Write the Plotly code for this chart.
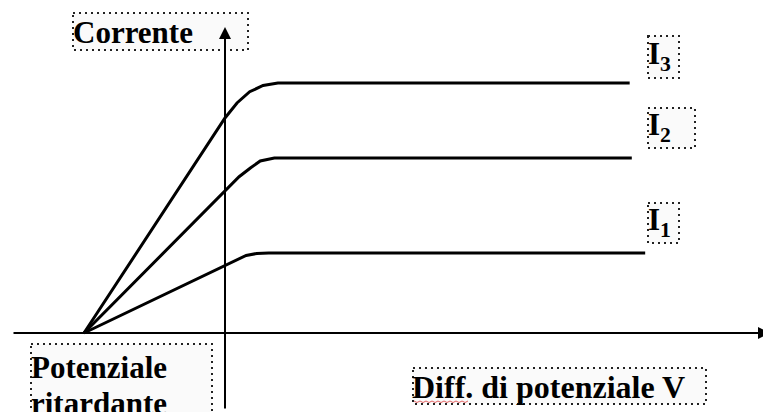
import plotly.graph_objects as go

# ---------------- data (voltage V, current in arbitrary units) ----------------
stop_potential = -2.0
V_I1 = [-2.0, 0.0, 0.15, 0.30, 0.45, 0.62, 5.96]
I_I1 = [0.0, 2.72, 2.92, 3.10, 3.18, 3.20, 3.20]
V_I2 = [-2.0, 0.0, 0.20, 0.36, 0.50, 0.70, 5.77]
I_I2 = [0.0, 5.72, 6.25, 6.60, 6.88, 7.00, 7.00]
V_I3 = [-2.0, 0.0, 0.17, 0.35, 0.54, 0.75, 5.74]
I_I3 = [0.0, 8.60, 9.20, 9.65, 9.90, 10.00, 10.00]
series = [("I1", V_I1, I_I1), ("I2", V_I2, I_I2), ("I3", V_I3, I_I3)]
curve_labels = ["I<sub>1</sub>", "I<sub>2</sub>", "I<sub>3</sub>"]
y_label = "Corrente"
x_label = "Diff. di potenziale V"
stop_label = ["Potenziale", "ritardante"]

# ---------------- layout helpers (pixel -> data) ----------------
W, H = 763, 412
X0, Y0, SX, SY = 225, 333, 70.5, 25.0
def dx(px):
    return (px - X0) / SX
def dy(py):
    return (Y0 - py) / SY

FONT = dict(family="Liberation Serif", size=31, color="black")

fig = go.Figure()
for name, v, i in series:
    fig.add_trace(go.Scatter(x=v, y=i, mode="lines", name=name,
                             line=dict(color="black", width=3, shape="linear"),
                             hoverinfo="skip", showlegend=False))

# axes with arrows
fig.add_annotation(x=dx(770), y=0, ax=dx(12), ay=0, xref="x", yref="y", axref="x", ayref="y",
                   text="", showarrow=True, arrowhead=2, arrowsize=1.2, arrowwidth=2,
                   arrowcolor="black", standoff=0)
fig.add_annotation(x=0, y=dy(27), ax=0, ay=dy(410), xref="x", yref="y", axref="x", ayref="y",
                   text="", showarrow=True, arrowhead=2, arrowsize=1.2, arrowwidth=2,
                   arrowcolor="black", standoff=0)

def box(x1, y1, x2, y2):
    fig.add_shape(type="rect", xref="x", yref="y", x0=dx(x1), x1=dx(x2), y0=dy(y1), y1=dy(y2),
                  line=dict(color="#222222", width=2, dash="2px,4px"),
                  fillcolor="rgba(0,0,0,0.02)", layer="below")

def label(text, px, py, size=31):
    f = dict(FONT, size=size)
    fig.add_annotation(x=dx(px), y=dy(py), xref="x", yref="y", text="<b>%s</b>" % text,
                       showarrow=False, xanchor="left", yanchor="middle", font=f)

box(73, 13, 248, 50)
label(y_label, 71, 32)

box(648, 36, 679, 78)
box(648, 108, 695, 148)
box(648, 203, 679, 243)
label(curve_labels[2], 646, 56)
label(curve_labels[1], 646, 127)
label(curve_labels[0], 646, 222)

box(31, 344, 212, 420)
label(stop_label[0], 29, 367)
label(stop_label[1], 29, 403)

box(413, 368, 706, 404)
label(x_label, 410, 387, size=32)

# spell-check squiggle under "Diff."
zig = "M %f,%f" % (dx(414), dy(401))
for k in range(1, 19):
    zig += " L %f,%f" % (dx(414 + 3 * k), dy(401 + (1.5 if k % 2 else 0)))
fig.add_shape(type="path", xref="x", yref="y", path=zig,
              line=dict(color="rgba(220,60,60,0.8)", width=1))

fig.update_layout(width=W, height=H, margin=dict(l=0, r=0, t=0, b=0),
                  paper_bgcolor="white", plot_bgcolor="white",
                  xaxis=dict(range=[dx(0), dx(W)], visible=False, fixedrange=True),
                  yaxis=dict(range=[dy(H), dy(0)], visible=False, fixedrange=True),
                  showlegend=False)
fig.write_html("out.html", config={"displayModeBar": False, "staticPlot": True},
               post_script="document.body.style.margin='0';document.body.style.overflow='hidden';")
